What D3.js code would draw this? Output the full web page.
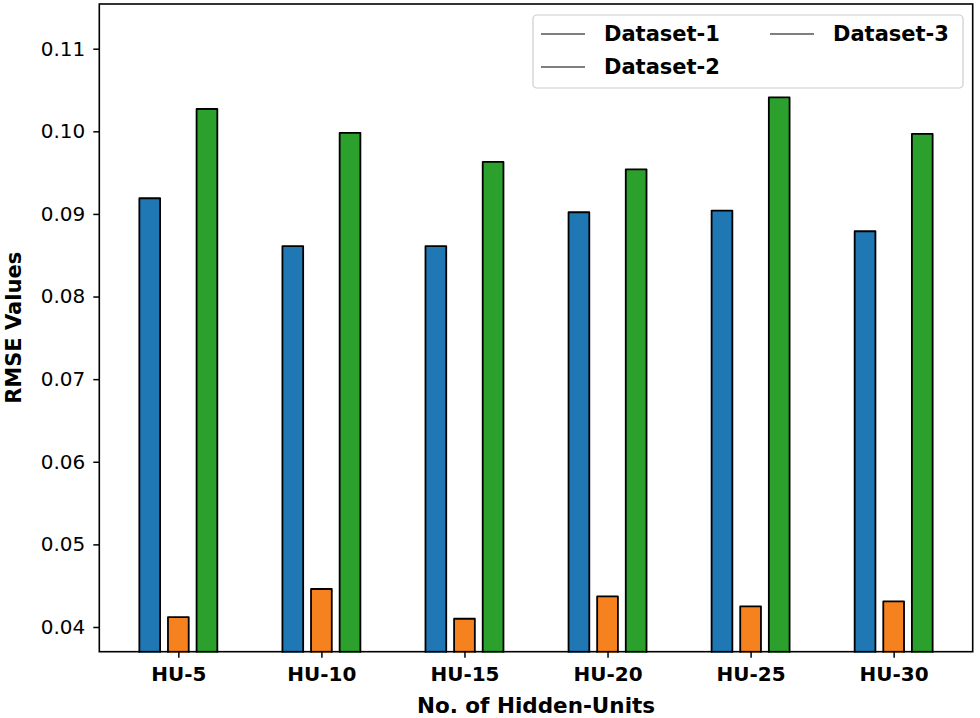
<!DOCTYPE html>
<html><head><meta charset="utf-8">
<script src="https://cdn.jsdelivr.net/npm/d3@7"></script>
<style>body{margin:0;background:#fff}svg{display:block}</style>
</head><body><div id="chart"></div>
<script>
const categories = ["HU-5","HU-10","HU-15","HU-20","HU-25","HU-30"];
const dataset1 = [0.0919, 0.0861, 0.0861, 0.0902, 0.0904, 0.0879];
const dataset2 = [0.0412, 0.0446, 0.0410, 0.0437, 0.0425, 0.0431];
const dataset3 = [0.1027, 0.0998, 0.0963, 0.0954, 0.1041, 0.0997];
const seriesNames = ["Dataset-1","Dataset-2","Dataset-3"];
const seriesColors = ["#1f77b4","#f5811f","#2ca02c"];
const yTicks = [0.04,0.05,0.06,0.07,0.08,0.09,0.10,0.11];

const W=980,H=718;
const m={left:99.3,right:980-972.7,top:4,bottom:718-651.7};
const svg=d3.select("#chart").append("svg").attr("width",W).attr("height",H);
const x=d3.scaleLinear().domain([-0.5525,5.5525]).range([m.left,W-m.right]);
const y=d3.scaleLinear().domain([0.03701,0.11541]).range([H-m.bottom,m.top]);
const series=[dataset1,dataset2,dataset3];
const offs=[-0.2,0,0.2], bw=0.145;
const font="DejaVu Sans";

series.forEach((s,si)=>{
  svg.append("g").selectAll("rect").data(s).join("rect")
    .attr("x",(d,i)=>x(i+offs[si]-bw/2))
    .attr("width",x(bw)-x(0))
    .attr("y",d=>y(d))
    .attr("height",d=>y(y.domain()[0])-y(d)+2)
    .attr("fill",seriesColors[si])
    .attr("stroke","#000").attr("stroke-width",1.8).attr("stroke-linejoin","round");
});
svg.append("rect").attr("x",0).attr("y",H-m.bottom+1).attr("width",W).attr("height",m.bottom).attr("fill","#fff");

const gy=svg.append("g").attr("transform",`translate(${m.left},0)`)
  .call(d3.axisLeft(y).tickValues(yTicks).tickFormat(d3.format(".2f")).tickSize(6).tickPadding(8));
gy.select(".domain").remove();
gy.selectAll("text").attr("font-family",font).attr("font-size",20).attr("fill","#000");
gy.selectAll("line").attr("stroke","#000").attr("stroke-width",1.5);

const gx=svg.append("g").attr("transform",`translate(0,${H-m.bottom})`)
  .call(d3.axisBottom(x).tickValues(d3.range(categories.length)).tickFormat(i=>categories[i]).tickSize(6).tickPadding(9));
gx.select(".domain").remove();
gx.selectAll("text").attr("font-family",font).attr("font-size",20).attr("font-weight","bold").attr("fill","#000");
gx.selectAll("line").attr("stroke","#000").attr("stroke-width",1.5);

svg.append("rect").attr("x",m.left).attr("y",m.top).attr("width",W-m.right-m.left).attr("height",H-m.bottom-m.top)
  .attr("fill","none").attr("stroke","#000").attr("stroke-width",1.6);

svg.append("text").attr("x",(m.left+W-m.right)/2).attr("y",713).attr("text-anchor","middle")
  .attr("font-family",font).attr("font-size",21.5).attr("font-weight","bold").text("No. of Hidden-Units");
svg.append("text").attr("transform",`translate(21,${(m.top+H-m.bottom)/2}) rotate(-90)`).attr("text-anchor","middle")
  .attr("font-family",font).attr("font-size",21).attr("font-weight","bold").text("RMSE Values");

// legend
const lg=svg.append("g");
lg.append("rect").attr("x",533).attr("y",15).attr("width",430).attr("height",73).attr("rx",4)
  .attr("fill","#fff").attr("fill-opacity",0.8).attr("stroke","#ccc").attr("stroke-width",1.2);
const legPos=[[541,34],[541,67],[770,34]];
seriesNames.forEach((n,i)=>{
  const [lx,ly]=legPos[i];
  lg.append("line").attr("x1",lx).attr("x2",lx+44).attr("y1",ly).attr("y2",ly).attr("stroke","#555").attr("stroke-width",1.5);
  lg.append("text").attr("x",lx+63).attr("y",ly+7).attr("font-family",font).attr("font-size",21).attr("font-weight","bold").text(n);
});
</script></body></html>
